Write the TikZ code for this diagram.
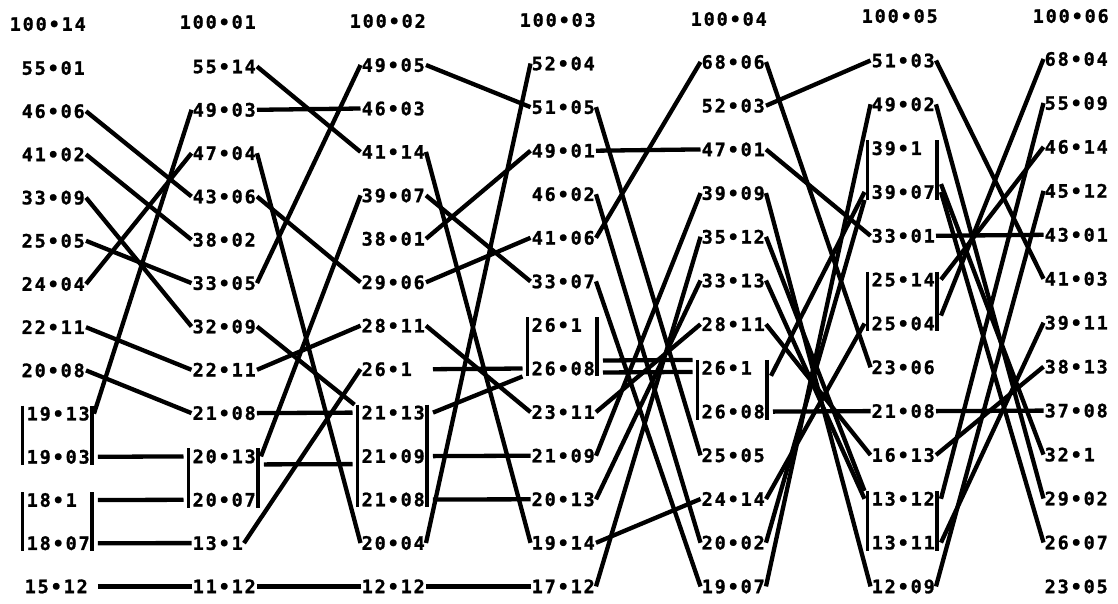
\documentclass[tikz,border=0pt]{standalone}
\usepackage{fontspec}
\newfontfamily\numfont[LetterSpace=10,FakeBold=1.2]{DejaVu Sans Mono Bold}

\begin{document}
\begin{tikzpicture}[
    x=1pt, y=-1pt,
    lab/.style={anchor=west, inner xsep=1pt, inner ysep=1pt, text height=13.5pt, text depth=0pt,
      font=\numfont\fontsize{18.5}{19}\selectfont},
    link/.style={line width=4.3pt},
    bar/.style={line width=3.8pt}
  ]
    \useasboundingbox (0,0) rectangle (1118,603);

    \node[lab] (h1) at (8.5,24) {100•14};
    \node[lab] (h2) at (178.5,22) {100•01};
    \node[lab] (h3) at (348.5,21) {100•02};
    \node[lab] (h4) at (518.5,20) {100•03};
    \node[lab] (h5) at (689.5,19) {100•04};
    \node[lab] (h6) at (860.5,16) {100•05};
    \node[lab] (h7) at (1031.5,16) {100•06};

    \node[lab] (a1) at (20.5,68) {55•01};
    \node[lab] (a2) at (20.5,111.2) {46•06};
    \node[lab] (a3) at (20.5,154.4) {41•02};
    \node[lab] (a4) at (20.5,197.6) {33•09};
    \node[lab] (a5) at (20.5,240.8) {25•05};
    \node[lab] (a6) at (20.5,284) {24•04};
    \node[lab] (a7) at (20.5,327.2) {22•11};
    \node[lab] (a8) at (20.5,370.4) {20•08};
    \node[lab] (a9) at (25.5,413.6) {19•13};
    \node[lab] (a10) at (25.5,456.8) {19•03};
    \node[lab] (a11) at (25.5,500) {18•1};
    \node[lab] (a12) at (25.5,543.2) {18•07};
    \node[lab] (a13) at (23.5,586.4) {15•12};

    \node[lab] (b1) at (191.5,66.5) {55•14};
    \node[lab] (b2) at (191.5,109.8) {49•03};
    \node[lab] (b3) at (191.5,153.2) {47•04};
    \node[lab] (b4) at (191.5,196.5) {43•06};
    \node[lab] (b5) at (191.5,239.8) {38•02};
    \node[lab] (b6) at (191.5,283.1) {33•05};
    \node[lab] (b7) at (191.5,326.5) {32•09};
    \node[lab] (b8) at (191.5,369.8) {22•11};
    \node[lab] (b9) at (191.5,413.1) {21•08};
    \node[lab] (b10) at (191.5,456.4) {20•13};
    \node[lab] (b11) at (191.5,499.8) {20•07};
    \node[lab] (b12) at (191.5,543.1) {13•1};
    \node[lab] (b13) at (191.5,586.4) {11•12};

    \node[lab] (c1) at (360.5,65) {49•05};
    \node[lab] (c2) at (360.5,108.5) {46•03};
    \node[lab] (c3) at (360.5,151.9) {41•14};
    \node[lab] (c4) at (360.5,195.4) {39•07};
    \node[lab] (c5) at (360.5,238.8) {38•01};
    \node[lab] (c6) at (360.5,282.3) {29•06};
    \node[lab] (c7) at (360.5,325.7) {28•11};
    \node[lab] (c8) at (360.5,369.2) {26•1};
    \node[lab] (c9) at (360.5,412.6) {21•13};
    \node[lab] (c10) at (360.5,456.1) {21•09};
    \node[lab] (c11) at (360.5,499.5) {21•08};
    \node[lab] (c12) at (360.5,543) {20•04};
    \node[lab] (c13) at (360.5,586.4) {12•12};

    \node[lab] (d1) at (530.5,63.5) {52•04};
    \node[lab] (d2) at (530.5,107.1) {51•05};
    \node[lab] (d3) at (530.5,150.7) {49•01};
    \node[lab] (d4) at (530.5,194.2) {46•02};
    \node[lab] (d5) at (530.5,237.8) {41•06};
    \node[lab] (d6) at (530.5,281.4) {33•07};
    \node[lab] (d7) at (530.5,325) {26•1};
    \node[lab] (d8) at (530.5,368.5) {26•08};
    \node[lab] (d9) at (530.5,412.1) {23•11};
    \node[lab] (d10) at (530.5,455.7) {21•09};
    \node[lab] (d11) at (530.5,499.3) {20•13};
    \node[lab] (d12) at (530.5,542.8) {19•14};
    \node[lab] (d13) at (530.5,586.4) {17•12};

    \node[lab] (e1) at (700.5,62) {68•06};
    \node[lab] (e2) at (700.5,105.7) {52•03};
    \node[lab] (e3) at (700.5,149.4) {47•01};
    \node[lab] (e4) at (700.5,193.1) {39•09};
    \node[lab] (e5) at (700.5,236.8) {35•12};
    \node[lab] (e6) at (700.5,280.5) {33•13};
    \node[lab] (e7) at (700.5,324.2) {28•11};
    \node[lab] (e8) at (700.5,367.9) {26•1};
    \node[lab] (e9) at (700.5,411.6) {26•08};
    \node[lab] (e10) at (700.5,455.3) {25•05};
    \node[lab] (e11) at (700.5,499) {24•14};
    \node[lab] (e12) at (700.5,542.7) {20•02};
    \node[lab] (e13) at (700.5,586.4) {19•07};

    \node[lab] (f1) at (870.5,60.5) {51•03};
    \node[lab] (f2) at (870.5,104.3) {49•02};
    \node[lab] (f3) at (870.5,148.2) {39•1};
    \node[lab] (f4) at (870.5,192) {39•07};
    \node[lab] (f5) at (870.5,235.8) {33•01};
    \node[lab] (f6) at (870.5,279.6) {25•14};
    \node[lab] (f7) at (870.5,323.5) {25•04};
    \node[lab] (f8) at (870.5,367.3) {23•06};
    \node[lab] (f9) at (870.5,411.1) {21•08};
    \node[lab] (f10) at (870.5,455) {16•13};
    \node[lab] (f11) at (870.5,498.8) {13•12};
    \node[lab] (f12) at (870.5,542.6) {13•11};
    \node[lab] (f13) at (870.5,586.4) {12•09};

    \node[lab] (g1) at (1043.5,59) {68•04};
    \node[lab] (g2) at (1043.5,103) {55•09};
    \node[lab] (g3) at (1043.5,146.9) {46•14};
    \node[lab] (g4) at (1043.5,190.9) {45•12};
    \node[lab] (g5) at (1043.5,234.8) {43•01};
    \node[lab] (g6) at (1043.5,278.8) {41•03};
    \node[lab] (g7) at (1043.5,322.7) {39•11};
    \node[lab] (g8) at (1043.5,366.7) {38•13};
    \node[lab] (g9) at (1043.5,410.6) {37•08};
    \node[lab] (g10) at (1043.5,454.6) {32•1};
    \node[lab] (g11) at (1043.5,498.5) {29•02};
    \node[lab] (g12) at (1043.5,542.5) {26•07};
    \node[lab] (g13) at (1043.5,586.4) {23•05};

    \draw[bar] ([xshift=-3pt]a9.north west) -- ([xshift=-3pt]a10.south west);
    \draw[bar] ([xshift=1pt]a9.north east) -- ([xshift=1pt]a9.east |- a10.south);
    \draw[bar] ([xshift=-3pt]a11.north west) -- ([xshift=-3pt]a12.south west);
    \draw[bar] ([xshift=1pt]a12.east |- a11.north) -- ([xshift=1pt]a12.south east);
    \draw[bar] ([xshift=-3pt]b10.north west) -- ([xshift=-3pt]b11.south west);
    \draw[bar] ([xshift=1pt]b10.north east) -- ([xshift=1pt]b10.east |- b11.south);
    \draw[bar] ([xshift=-3pt]c9.north west) -- ([xshift=-3pt]c11.south west);
    \draw[bar] ([xshift=1pt]c9.north east) -- ([xshift=1pt]c9.east |- c11.south);
    \draw[bar] ([xshift=-3pt]d7.north west) -- ([xshift=-3pt]d8.south west);
    \draw[bar] ([xshift=1pt]d8.east |- d7.north) -- ([xshift=1pt]d8.south east);
    \draw[bar] ([xshift=-3pt]e8.north west) -- ([xshift=-3pt]e9.south west);
    \draw[bar] ([xshift=1pt]e9.east |- e8.north) -- ([xshift=1pt]e9.south east);
    \draw[bar] ([xshift=-3pt]f3.north west) -- ([xshift=-3pt]f4.south west);
    \draw[bar] ([xshift=1pt]f4.east |- f3.north) -- ([xshift=1pt]f4.south east);
    \draw[bar] ([xshift=-3pt]f6.north west) -- ([xshift=-3pt]f7.south west);
    \draw[bar] ([xshift=1pt]f6.north east) -- ([xshift=1pt]f6.east |- f7.south);
    \draw[bar] ([xshift=-3pt]f11.north west) -- ([xshift=-3pt]f12.south west);
    \draw[bar] ([xshift=1pt]f11.north east) -- ([xshift=1pt]f11.east |- f12.south);

    \draw[link] (a2.east) -- (b4.west);
    \draw[link] (a3.east) -- (b5.west);
    \draw[link] (a4.east) -- (b7.west);
    \draw[link] (a5.east) -- (b6.west);
    \draw[link] (a6.east) -- (b3.west);
    \draw[link] (a7.east) -- (b8.west);
    \draw[link] (a8.east) -- (b9.west);
    \draw[link] ([xshift=3pt]a9.east) -- (b2.west);
    \draw[link] ([xshift=7pt]a10.east) -- ([xshift=-8pt]b10.west);
    \draw[link] ([xshift=7pt]a12.east |- a11.east) -- ([xshift=-8pt]b11.west);
    \draw[link] ([xshift=7pt]a12.east) -- (b12.west);
    \draw[link] ([xshift=9pt]a13.east) -- (b13.west);

    \draw[link] (b1.east) -- (c3.west);
    \draw[link] (b2.east) -- (c2.west);
    \draw[link] (b3.east) -- (c12.west);
    \draw[link] (b4.east) -- (c6.west);
    \draw[link] (b6.east) -- (c1.west);
    \draw[link] (b7.east) -- ([xshift=-6pt]c9.north west);
    \draw[link] (b8.east) -- (c7.west);
    \draw[link] (b9.east) -- ([xshift=-8pt]c9.west);
    \draw[link] ([xshift=4pt]b10.east) -- (c4.west);
    \draw[link] ([xshift=7pt,yshift=-8pt]b10.east) -- ([xshift=-8pt,yshift=-8pt]c10.west);
    \draw[link] (b12.east) -- (c8.west);
    \draw[link] (b13.east) -- (c13.west);

    \draw[link] (c1.east) -- (d2.west);
    \draw[link] (c3.east) -- (d12.west);
    \draw[link] (c4.east) -- (d6.west);
    \draw[link] (c5.east) -- (d3.west);
    \draw[link] (c6.east) -- (d5.west);
    \draw[link] (c7.east) -- (d9.west);
    \draw[link] ([xshift=7pt]c9.east |- c8.east) -- ([xshift=-8pt]d8.west);
    \draw[link] ([xshift=7pt]c9.east) -- ([xshift=-8pt]d8.south west);
    \draw[link] ([xshift=7pt]c10.east) -- (d10.west);
    \draw[link] ([xshift=7pt]c11.east) -- (d11.west);
    \draw[link] (c12.east) -- (d1.west);
    \draw[link] (c13.east) -- (d13.west);

    \draw[link] (d2.east) -- (e10.west);
    \draw[link] (d3.east) -- (e3.west);
    \draw[link] (d4.east) -- (e12.west);
    \draw[link] (d5.east) -- (e1.west);
    \draw[link] (d6.east) -- (e13.west);
    \draw[link] ([xshift=7pt,yshift=8pt]d8.east) -- ([xshift=-8pt,yshift=8pt]e8.west);
    \draw[link] ([xshift=7pt,yshift=-4pt]d8.east) -- ([xshift=-8pt,yshift=-4pt]e8.west);
    \draw[link] (d9.east) -- (e7.west);
    \draw[link] (d10.east) -- (e4.west);
    \draw[link] (d11.east) -- (e6.west);
    \draw[link] (d12.east) -- (e11.west);
    \draw[link] (d13.east) -- (e5.west);

    \draw[link] (e1.east) -- (f8.west);
    \draw[link] (e2.east) -- (f1.west);
    \draw[link] (e3.east) -- (f5.west);
    \draw[link] (e4.east) -- (f13.west);
    \draw[link] (e5.east) -- ([xshift=-6pt]f11.north west);
    \draw[link] (e6.east) -- ([xshift=-6pt]f11.west);
    \draw[link] (e7.east) -- (f10.west);
    \draw[link] ([xshift=7pt]e9.east) -- (f9.west);
    \draw[link] ([xshift=5pt]e9.east |- e8.south) -- ([xshift=-6pt]f4.west);
    \draw[link] (e11.east) -- ([xshift=-6pt]f7.west);
    \draw[link] (e12.east) -- ([xshift=-6pt]f4.south west);
    \draw[link] (e13.east) -- (f2.west);

    \draw[link] (f1.east) -- (g6.west);
    \draw[link] (f2.east) -- (g11.west);
    \draw[link] ([xshift=5pt]f4.north east) -- (g10.west);
    \draw[link] ([xshift=5pt]f4.east) -- (g12.west);
    \draw[link] (f5.east) -- (g5.west);
    \draw[link] ([xshift=5pt]f6.east) -- (g3.west);
    \draw[link] ([xshift=5pt]f7.north east) -- (g1.west);
    \draw[link] (f9.east) -- (g9.west);
    \draw[link] (f10.east) -- (g8.west);
    \draw[link] ([xshift=5pt]f11.east) -- (g2.west);
    \draw[link] ([xshift=5pt]f12.east) -- (g7.west);
    \draw[link] (f13.east) -- (g4.west);
  \end{tikzpicture}
\end{document}
